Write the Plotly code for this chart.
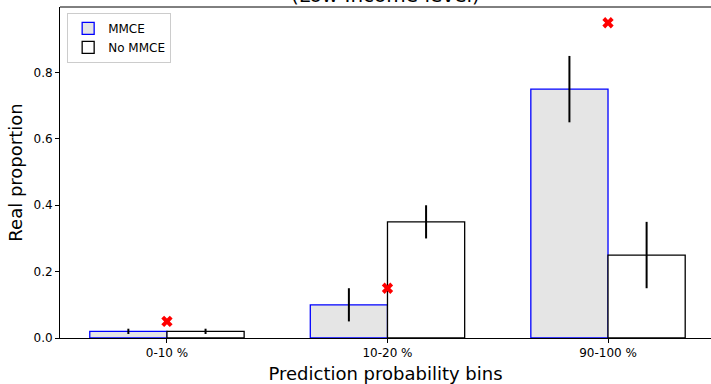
import plotly.graph_objects as go

categories = ["0-10 %", "10-20 %", "90-100 %"]
mmce_values = [0.02, 0.10, 0.75]
mmce_errors = [0.008, 0.05, 0.10]
no_mmce_values = [0.02, 0.35, 0.25]
no_mmce_errors = [0.008, 0.05, 0.10]
expected_values = [0.05, 0.15, 0.95]

xpos = list(range(len(categories)))
font = "DejaVu Sans"

fig = go.Figure()
fig.add_trace(go.Bar(
    x=xpos, y=mmce_values, name="MMCE",
    marker=dict(color="#e5e5e5", line=dict(color="#0000ff", width=1.3)),
    error_y=dict(type="data", array=mmce_errors, visible=True,
                 color="black", thickness=2, width=0),
))
fig.add_trace(go.Bar(
    x=xpos, y=no_mmce_values, name="No MMCE",
    marker=dict(color="white", line=dict(color="black", width=1.3)),
    error_y=dict(type="data", array=no_mmce_errors, visible=True,
                 color="black", thickness=2, width=0),
))
fig.add_trace(go.Scatter(
    x=xpos, y=expected_values, mode="markers", showlegend=False,
    marker=dict(symbol="x", color="red", size=10, line=dict(width=0)),
))

fig.update_layout(
    width=711, height=384,
    margin=dict(l=60, r=0, t=7, b=46, autoexpand=False),
    paper_bgcolor="white", plot_bgcolor="white",
    barmode="group", bargap=0.3, bargroupgap=0,
    font=dict(family=font, size=12, color="black"),
    legend=dict(x=0.011, y=0.982, xanchor="left", yanchor="top",
                bgcolor="rgba(255,255,255,0.8)", bordercolor="#cccccc",
                borderwidth=1, font=dict(size=12, family=font),
                tracegroupgap=0),
    xaxis=dict(
        range=[-0.485, 2.467], tickmode="array", tickvals=xpos,
        ticktext=categories, showgrid=False, zeroline=False,
        showline=True, linecolor="black", linewidth=1, automargin=False,
        ticks="outside", ticklen=4, tickcolor="black",
        title=dict(text="Prediction probability bins",
                   font=dict(size=18, family=font), standoff=7),
    ),
    yaxis=dict(
        range=[0, 0.9975], tickvals=[0, 0.2, 0.4, 0.6, 0.8],
        ticktext=["0.0", "0.2", "0.4", "0.6", "0.8"],
        showgrid=False, zeroline=False, automargin=False,
        showline=True, linecolor="black", linewidth=1,
        ticks="outside", ticklen=4, tickcolor="black",
        title=dict(text="Real proportion",
                   font=dict(size=18, family=font), standoff=6),
    ),
    shapes=[dict(type="line", xref="paper", yref="paper",
                 x0=0, x1=1, y0=1, y1=1,
                 line=dict(color="black", width=1))],
    annotations=[dict(text="(Low Income level)", xref="paper", yref="paper",
                      x=0.5, y=1.0, yshift=-2, xanchor="center",
                      yanchor="bottom", showarrow=False,
                      font=dict(size=20, family=font))],
)

fig.write_html("out.html", config={"displayModeBar": False},
               post_script="document.body.style.margin='0';")
